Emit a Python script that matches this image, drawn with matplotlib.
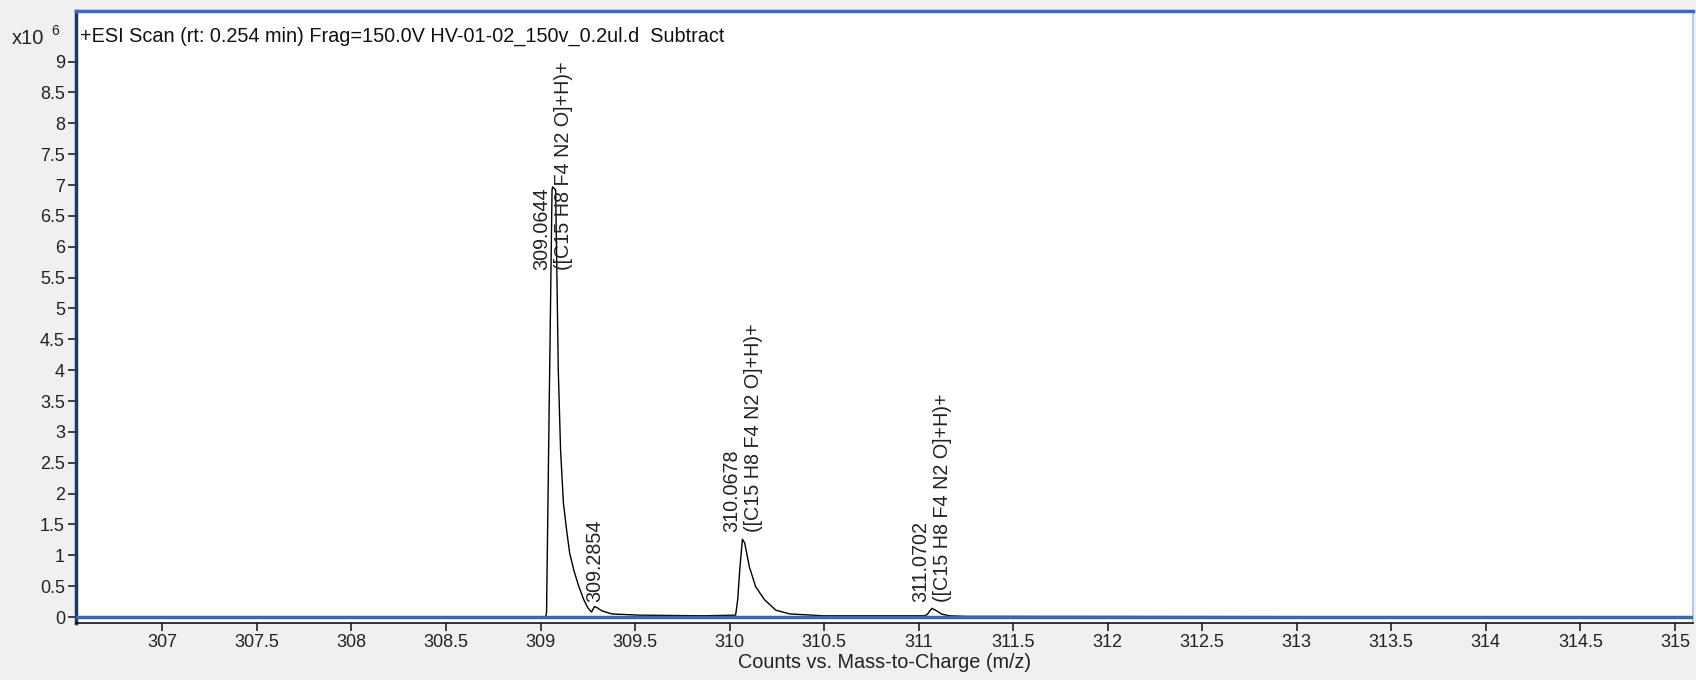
import matplotlib
matplotlib.use('Agg')
import matplotlib.pyplot as plt

# profile spectrum, counts in units of 1e6
mz = [306.54, 309.0, 309.027, 309.032, 309.045, 309.061, 309.064, 309.08, 309.094,
      309.106, 309.121, 309.138, 309.154, 309.176, 309.202, 309.229, 309.25, 309.27,
      309.285, 309.30, 309.324, 309.378, 309.52, 309.86, 310.032, 310.043, 310.055,
      310.068, 310.08, 310.105, 310.138, 310.185, 310.245, 310.319, 310.495, 311.03,
      311.045, 311.07, 311.09, 311.12, 311.16, 311.25, 315.1]
counts = [0.0, 0.0, 0.0, 0.08, 3.2, 6.92, 6.97, 6.92, 4.0,
          2.71, 1.85, 1.41, 1.04, 0.76, 0.50, 0.28, 0.15, 0.08,
          0.17, 0.15, 0.10, 0.05, 0.03, 0.02, 0.03, 0.28, 0.81,
          1.26, 1.2, 0.81, 0.49, 0.28, 0.11, 0.05, 0.02, 0.02,
          0.04, 0.14, 0.11, 0.05, 0.02, 0.01, 0.0]

# peak annotations
peak_mz = [309.0644, 309.2854, 310.0678, 311.0702]
peak_text = ["309.0644\n([C15 H8 F4 N2 O]+H)+",
             "309.2854",
             "310.0678\n([C15 H8 F4 N2 O]+H)+",
             "311.0702\n([C15 H8 F4 N2 O]+H)+"]
label_y = [5.62, 0.24, 1.38, 0.24]

xticks = [307 + 0.5 * i for i in range(17)]
yticks = [0.5 * i for i in range(19)]

title = "+ESI Scan (rt: 0.254 min) Frag=150.0V HV-01-02_150v_0.2ul.d  Subtract"

plt.rcParams['font.family'] = ['Liberation Sans', 'DejaVu Sans']

W, H = 1696, 680
fig = plt.figure(figsize=(W / 100, H / 100), dpi=100, facecolor='#f0f0f0')
ax = fig.add_axes([76 / W, 1 - 623 / H, (1693 - 76) / W, (623 - 11) / H])
ax.set_facecolor('white')

ax.plot(mz, counts, color='black', lw=1.0, zorder=3)
ax.axhline(0, color='#3a66b5', lw=2.5, zorder=3.5)

for x, t, y in zip(peak_mz, peak_text, label_y):
    ax.text(x, y, t, rotation=90, ha='center', va='bottom', multialignment='left',
            fontsize=14.2, linespacing=1.2, color='#222222', zorder=4)

ax.set_xlim(306.543, 315.096)
ax.set_ylim(-0.097, 9.82)
ax.set_xticks(xticks)
ax.set_xticklabels(['%g' % v for v in xticks])
ax.set_yticks(yticks)
ax.set_yticklabels(['%g' % v for v in yticks])
ax.tick_params(axis='both', labelsize=13, colors='#222222', direction='out',
               length=6, width=1.2, pad=2)

ax.spines['left'].set_color('#1f3864')
ax.spines['left'].set_linewidth(2.5)
ax.spines['top'].set_color('#3a6bc4')
ax.spines['top'].set_linewidth(2.5)
ax.spines['right'].set_color('#9cc3e6')
ax.spines['right'].set_linewidth(1.2)
ax.spines['bottom'].set_color('#111111')
ax.spines['bottom'].set_linewidth(1.2)

ax.set_xlabel('Counts vs. Mass-to-Charge (m/z)', fontsize=14.3, color='#222222', labelpad=1)

fig.text(80 / W, 1 - 36 / H, title, fontsize=14.3, va='center', ha='left', color='#111111')
fig.text(12 / W, 1 - 38 / H, 'x10', fontsize=14.5, va='center', ha='left', color='#222222')
fig.text(51 / W, 1 - 31 / H, '6', fontsize=10, va='center', ha='left', color='#222222')

fig.savefig('out.png', dpi=100, facecolor=fig.get_facecolor())
